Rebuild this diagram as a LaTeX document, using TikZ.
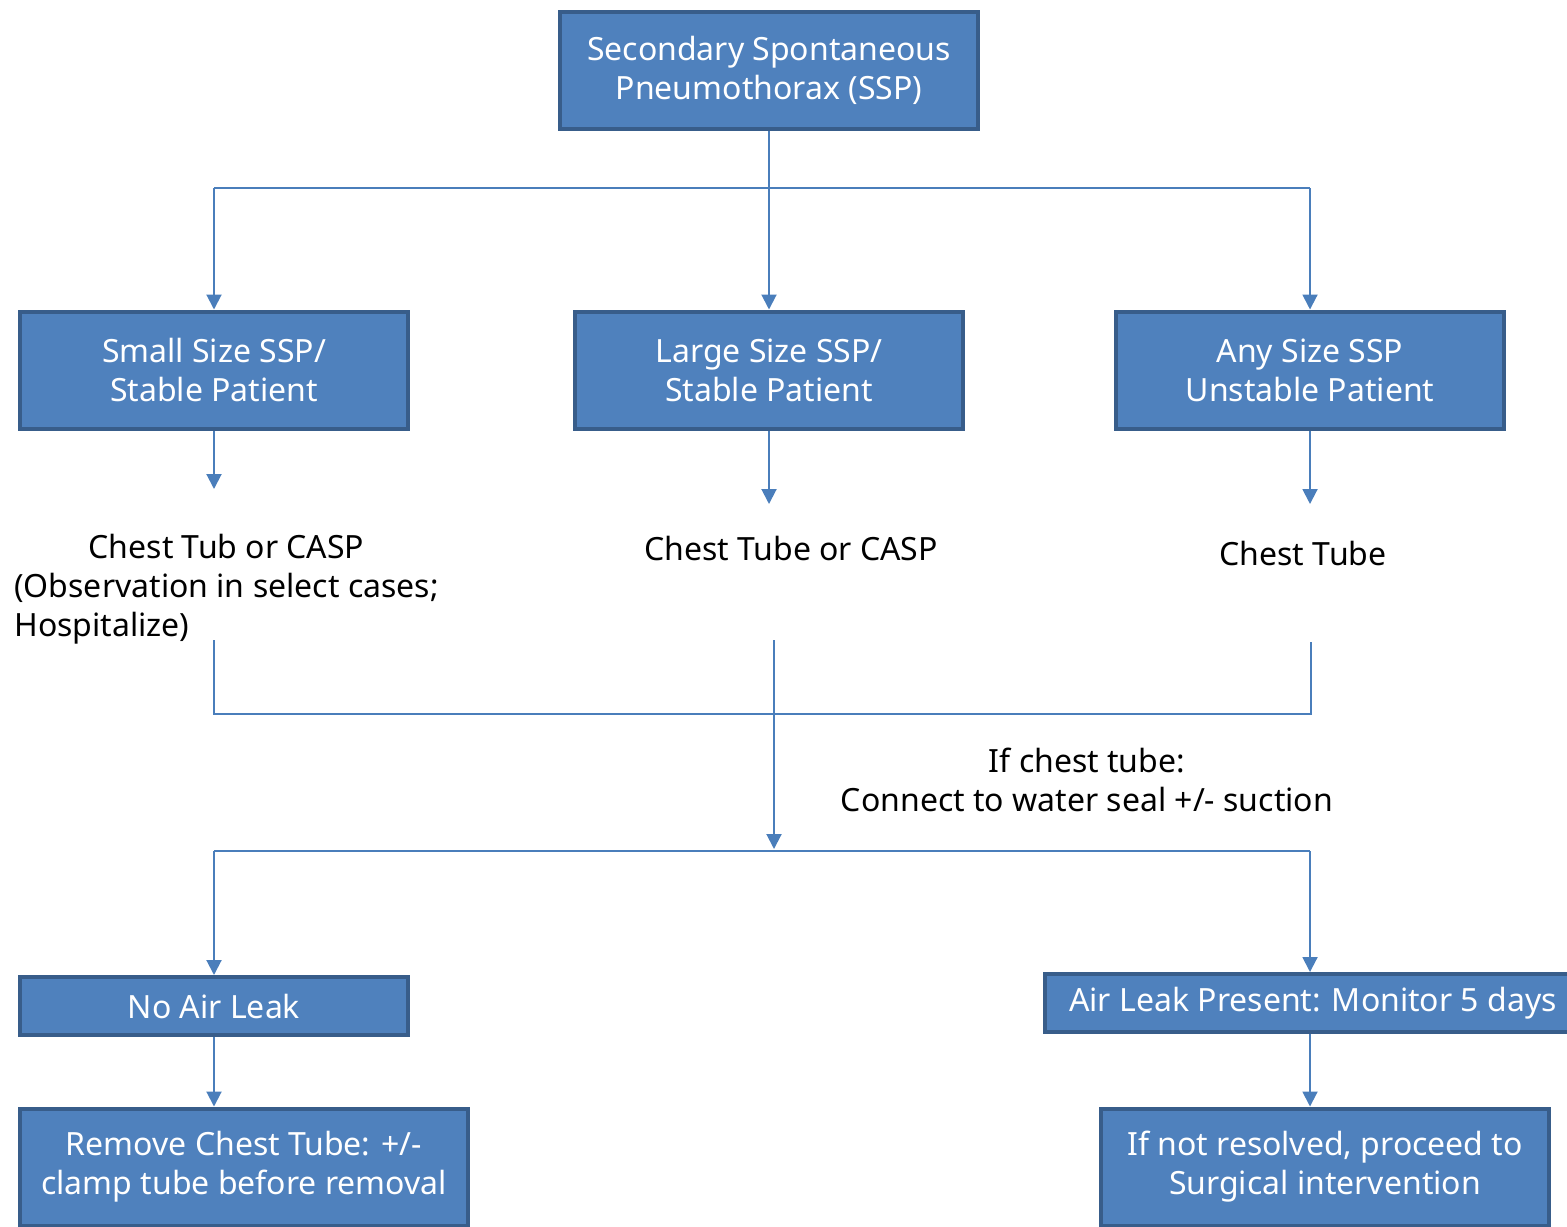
\documentclass[tikz,border=0pt]{standalone}
\usepackage{fontspec}
\setmainfont{Noto Sans}
\usetikzlibrary{arrows.meta}

\definecolor{boxfill}{HTML}{4F81BD}
\definecolor{boxedge}{HTML}{385D8A}
\definecolor{linkblue}{HTML}{4A7EBB}

\tikzset{
  box/.style={draw=boxedge, fill=boxfill, line width=2pt, text=white, align=center,
    minimum width=194pt, minimum height=58.5pt, inner sep=0pt,
    font=\fontsize{16}{19.5}\selectfont},
  note/.style={align=center, inner sep=0pt, font=\fontsize{16}{19.5}\selectfont},
  link/.style={draw=linkblue, line width=1pt},
  arrow/.style={link, -{Triangle[width=7.5pt,length=7.5pt]}}
}

\begin{document}
\begin{tikzpicture}[x=0.5pt,y=-0.5pt]
  \useasboundingbox (0,0) rectangle (1567,1226);

  % Start
  \node[box, minimum width=209pt] (ssp) at (769,70) {Secondary Spontaneous\\Pneumothorax (SSP)};

  % Draw the three kinds of patient
  \node[box] (small) at (214,370) {Small Size SSP/\\Stable Patient};
  \node[box] (large) at (769,370) {Large Size SSP/\\Stable Patient};
  \node[box] (any)   at (1310,370) {Any Size SSP\\Unstable Patient};

  % Treatment for each
  \node[note, anchor=west] (smalltx) at (14,590) {\begin{tabular}{@{}l@{}}\multicolumn{1}{@{}c@{}}{Chest Tub or CASP}\\(Observation in select cases;\\Hospitalize)\end{tabular}};
  \node[note] (largetx) at (791,548) {Chest Tube or CASP};
  \node[note] (anytx) at (1303,553) {Chest Tube};
  \node[note] (water) at (1087,780) {If chest tube:\\Connect to water seal +/- suction};

  % Outcomes
  \node[box, minimum height=29pt] (noleak) at (214,1006) {No Air Leak};
  \node[box, minimum width=268pt, minimum height=29pt] (leak) at (1313,1003) {Air Leak Present: Monitor 5 days};
  \node[box, minimum width=224pt] (remove) at (244,1167) {Remove Chest Tube: +/-\\clamp tube before removal};
  \node[box, minimum width=224pt] (surgery) at (1325,1167) {If not resolved, proceed to\\Surgical intervention};

  % Free ends of the lines
  \coordinate (splitL) at (214,188);
  \coordinate (splitR) at (1310,188);
  \coordinate (smallend) at (214,489);
  \coordinate (largeend) at (769,504);
  \coordinate (anyend) at (1310,504);
  \coordinate (fromL) at (214,640);
  \coordinate (fromM) at (774,640);
  \coordinate (fromR) at (1311,642);
  \coordinate (joinL) at (214,714);
  \coordinate (joinR) at (1311,714);
  \coordinate (midend) at (774,849);
  \coordinate (split2L) at (214,851);
  \coordinate (split2R) at (1310,851);

  % Connectors
  \draw[link] (splitL) -- (splitR);
  \draw[arrow] (ssp) -- (large);
  \draw[arrow] (splitL) -- (small);
  \draw[arrow] (splitR) -- (any);
  \draw[arrow] (small) -- (smallend);
  \draw[arrow] (large) -- (largeend);
  \draw[arrow] (any) -- (anyend);

  \draw[link] (fromL) -- (joinL) -- (joinR) -- (fromR);
  \draw[arrow] (fromM) -- (midend);
  \draw[link] (split2L) -- (split2R);
  \draw[arrow] (split2L) -- (noleak);
  \draw[arrow] (split2R) -- (split2R |- leak.north);
  \draw[arrow] (noleak) -- (noleak.south |- remove.north);
  \draw[arrow] (split2R |- leak.south) -- (split2R |- surgery.north);
\end{tikzpicture}
\end{document}
